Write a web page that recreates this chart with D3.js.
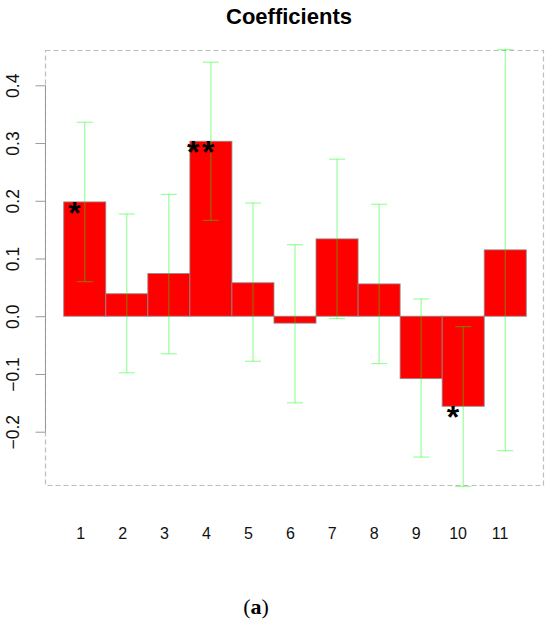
<!DOCTYPE html>
<html>
<head>
<meta charset="utf-8">
<script src="https://cdn.jsdelivr.net/npm/d3@7"></script>
<style>
  body { margin: 0; background: #fff; }
  svg { display: block; }
</style>
</head>
<body>
<svg id="chart" width="550" height="625"></svg>
<script>
// coefficient estimates and their intervals
const categories = ["1", "2", "3", "4", "5", "6", "7", "8", "9", "10", "11"];
const coefs = [0.198, 0.039, 0.074, 0.303, 0.058, -0.012, 0.134, 0.056, -0.108, -0.156, 0.115];
const lower = [0.060, -0.098, -0.065, 0.166, -0.078, -0.150, -0.004, -0.082, -0.244, -0.295, -0.233];
const upper = [0.336, 0.177, 0.211, 0.440, 0.196, 0.124, 0.272, 0.194, 0.030, -0.018, 0.462];
const stars = ["*", "", "", "**", "", "", "", "", "", "*", ""];
const yTicks = [-0.2, -0.1, 0.0, 0.1, 0.2, 0.3, 0.4];

const svg = d3.select("#chart");

// plot frame (dashed box)
const box = { left: 45.5, top: 50.5, right: 543.5, bottom: 485.5 };

const x = d3.scaleBand()
  .domain(categories)
  .range([63.7, 526.3])
  .padding(0);

// the category labels sit on their own, slightly tighter spacing
const xLab = d3.scalePoint()
  .domain(categories)
  .range([80.7, 500]);

const y = d3.scaleLinear()
  .domain([-0.2, 0.4])
  .range([431.7, 85.3]);

// Title
svg.append("text")
  .attr("x", 289)
  .attr("y", 24)
  .attr("text-anchor", "middle")
  .attr("font-family", "Liberation Sans, Arial, sans-serif")
  .attr("font-weight", "bold")
  .attr("font-size", "22px")
  .text("Coefficients");

// Dashed box
svg.append("rect")
  .attr("x", box.left)
  .attr("y", box.top)
  .attr("width", box.right - box.left)
  .attr("height", box.bottom - box.top)
  .attr("fill", "none")
  .attr("stroke", "#bdbdbd")
  .attr("stroke-width", 1.2)
  .attr("stroke-dasharray", "5,3");

// Y axis
const yAxis = svg.append("g")
  .attr("transform", `translate(${box.left},0)`)
  .call(d3.axisLeft(y).tickValues(yTicks).tickSize(10).tickPadding(0).tickFormat(d3.format(".1f")));

yAxis.select(".domain")
  .attr("stroke", "#9a9a9a")
  .attr("d", `M0,${y(-0.2)}V${y(0.4)}`);
yAxis.selectAll(".tick line").attr("stroke", "#9a9a9a");
yAxis.selectAll(".tick text")
  .attr("font-family", "Liberation Sans, Arial, sans-serif")
  .attr("font-size", "17.5px")
  .attr("fill", "#111")
  .attr("text-anchor", "middle")
  .attr("x", null)
  .attr("dy", null)
  .attr("transform", "translate(-27,0) rotate(-90)");

// Bars
svg.append("g")
  .selectAll("rect")
  .data(coefs)
  .enter()
  .append("rect")
  .attr("x", (d, i) => x(categories[i]))
  .attr("y", d => y(Math.max(0, d)))
  .attr("width", x.bandwidth())
  .attr("height", d => Math.abs(y(d) - y(0)))
  .attr("fill", "#ff0000")
  .attr("stroke", "#8a8a8a")
  .attr("stroke-opacity", 0.8)
  .attr("stroke-width", 1);

// Error bars (translucent green, they turn olive over the red)
const err = svg.append("g")
  .attr("stroke", "#00ff00")
  .attr("stroke-opacity", 0.4)
  .attr("stroke-width", 1.2);

const cx = i => x(categories[i]) + x.bandwidth() / 2;
const capHalf = 8;

coefs.forEach((d, i) => {
  err.append("line")
    .attr("x1", cx(i)).attr("x2", cx(i))
    .attr("y1", y(upper[i])).attr("y2", y(lower[i]));
  err.append("line")
    .attr("x1", cx(i) - capHalf).attr("x2", cx(i) + capHalf)
    .attr("y1", y(upper[i])).attr("y2", y(upper[i]));
  err.append("line")
    .attr("x1", cx(i) - capHalf).attr("x2", cx(i) + capHalf)
    .attr("y1", y(lower[i])).attr("y2", y(lower[i]));
});

// Significance stars
svg.append("g")
  .selectAll("text")
  .data(coefs)
  .enter()
  .append("text")
  .attr("x", (d, i) => cx(i) - 9)
  .attr("y", d => y(d) + 22)
  .attr("text-anchor", "middle")
  .attr("font-family", "Liberation Sans, Arial, sans-serif")
  .attr("font-weight", "bold")
  .attr("font-size", "32px")
  .attr("letter-spacing", "2.5px")
  .attr("fill", "#000")
  .text((d, i) => stars[i]);

// Category labels
svg.append("g")
  .selectAll("text")
  .data(categories)
  .enter()
  .append("text")
  .attr("x", d => xLab(d))
  .attr("y", 538.5)
  .attr("text-anchor", "middle")
  .attr("font-family", "Liberation Sans, Arial, sans-serif")
  .attr("font-size", "16px")
  .attr("fill", "#111")
  .text(d => d);

// Caption
const cap = svg.append("text")
  .attr("x", 256)
  .attr("y", 614)
  .attr("text-anchor", "middle")
  .attr("font-family", "Liberation Serif, Times New Roman, serif")
  .attr("font-size", "22px")
  .attr("fill", "#000");
cap.append("tspan").text("(");
cap.append("tspan").attr("font-weight", "bold").text("a");
cap.append("tspan").text(")");
</script>
</body>
</html>
